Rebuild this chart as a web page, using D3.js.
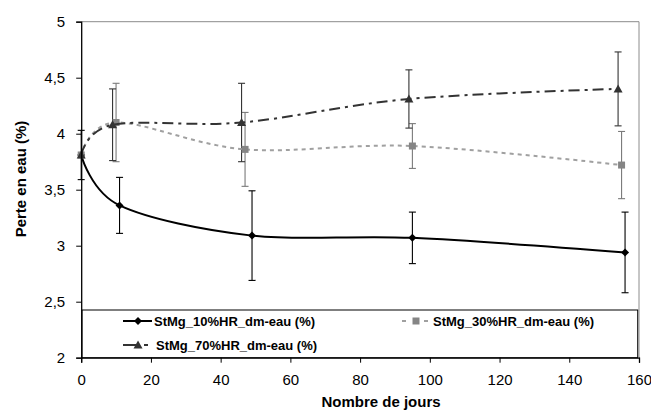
<!DOCTYPE html>
<html><head><meta charset="utf-8">
<script src="https://cdn.jsdelivr.net/npm/d3@7"></script>
<style>body{margin:0;background:#fff} text{font-family:Arial,"Liberation Sans",sans-serif}</style>
</head><body><svg id="c" width="651" height="414"></svg>
<script>
const names=["StMg_10%HR_dm-eau (%)","StMg_30%HR_dm-eau (%)","StMg_70%HR_dm-eau (%)"];
const days10=[0,11,49,95,156];
const val10=[3.81,3.36,3.09,3.07,2.94];
const err10=[0.22,0.25,0.40,0.23,0.36];
const days30=[0,10,47,95,155];
const val30=[3.81,4.10,3.86,3.89,3.72];
const err30=[0,0.35,0.33,0.20,0.30];
const days70=[0,9,46,94,154];
const val70=[3.81,4.08,4.10,4.31,4.40];
const err70=[0,0.32,0.35,0.26,0.33];
const xTicks=[0,20,40,60,80,100,120,140,160];
const yTicks=[2,2.5,3,3.5,4,4.5,5];
const yTickLabels=["2","2,5","3","3,5","4","4,5","5"];
const xTitle="Nombre de jours", yTitle="Perte en eau (%)";

const svg=d3.select("#c");
const x=d3.scaleLinear().domain([0,160]).range([81.2,639]);
const y=d3.scaleLinear().domain([2,5]).range([357.7,21.7]);

// plot frame (top/right gray)
svg.append("path").attr("d",`M${x(0)},${y(5)}H${x(160)}V${y(2)}`).attr("fill","none").attr("stroke","#8c8c8c").attr("stroke-width",1);

const series=[
 {name:names[0],d:days10,v:val10,e:err10,color:"#000",ecolor:"#000",dash:null,marker:"diamond",mcolor:"#000",w:2,leg:[123,321,29,null,15,31]},
 {name:names[1],d:days30,v:val30,e:err30,color:"#a0a0a0",ecolor:"#7a7a7a",dash:"4,4",marker:"square",mcolor:"#858585",w:2,leg:[402,321,26,"4,18,4",14,31]},
 {name:names[2],d:days70,v:val70,e:err70,color:"#333",ecolor:"#333",dash:"11,5,3,5",marker:"triangle",mcolor:"#333",w:2,leg:[123,345,25,"13,8,4",15,33]}
];
const markerPath={
 diamond:"M0,-4L4,0L0,4L-4,0Z",
 square:"M-3.5,-3.5H3.5V3.5H-3.5Z",
 triangle:"M0,-4.5L4.5,3.5L-4.5,3.5Z"
};
const line=d3.line().x(p=>x(p[0])).y(p=>y(p[1])).curve(d3.curveCardinal.tension(0));

// error bars
series.forEach(s=>{
 const g=svg.append("g").attr("stroke",s.ecolor).attr("stroke-width",1.1);
 s.d.forEach((dd,i)=>{
  if(!s.e[i]) return;
  const cx=x(dd), t=y(s.v[i]+s.e[i]), b=y(s.v[i]-s.e[i]);
  g.append("line").attr("x1",cx).attr("x2",cx).attr("y1",t).attr("y2",b);
  g.append("line").attr("x1",cx-3.5).attr("x2",cx+3.5).attr("y1",t).attr("y2",t);
  g.append("line").attr("x1",cx-3.5).attr("x2",cx+3.5).attr("y1",b).attr("y2",b);
 });
});
// lines and markers
series.forEach(s=>{
 const pts=s.d.map((dd,i)=>[dd,s.v[i]]);
 svg.append("path").attr("d",line(pts)).attr("fill","none").attr("stroke",s.color)
  .attr("stroke-width",s.w).attr("stroke-dasharray",s.dash);
 svg.append("g").selectAll("path").data(pts).join("path")
  .attr("transform",p=>`translate(${x(p[0])},${y(p[1])})`)
  .attr("d",markerPath[s.marker]).attr("fill",s.mcolor);
});

// legend
const lg=svg.append("g");
lg.append("rect").attr("x",82).attr("y",310).attr("width",555.7).attr("height",47.7)
 .attr("fill","#fff").attr("stroke","#000").attr("stroke-width",1);
series.forEach(s=>{
 const [lx,ly,len,dash,mOff,tOff]=s.leg;
 lg.append("line").attr("x1",lx).attr("x2",lx+len).attr("y1",ly).attr("y2",ly)
  .attr("stroke",s.color).attr("stroke-width",2).attr("stroke-dasharray",dash);
 lg.append("path").attr("transform",`translate(${lx+mOff},${ly})`).attr("d",markerPath[s.marker]).attr("fill",s.mcolor);
 lg.append("text").attr("x",lx+tOff).attr("y",ly).attr("dy","0.36em")
  .attr("font-size",13).attr("font-weight","bold").attr("fill","#000").text(s.name);
});

// axes
const ax=svg.append("g").attr("transform",`translate(0,${y(2)})`)
 .call(d3.axisBottom(x).tickValues(xTicks).tickSize(5).tickPadding(12).tickFormat(d=>String(d)));
const ay=svg.append("g").attr("transform",`translate(${x(0)},0)`)
 .call(d3.axisLeft(y).tickValues(yTicks).tickSize(5).tickPadding(11).tickFormat((d,i)=>yTickLabels[i]));
[ax,ay].forEach(a=>{
 a.select(".domain").attr("stroke","#000").attr("stroke-width",1.3);
 a.selectAll(".tick line").attr("stroke","#000");
 a.selectAll("text").attr("font-size",15).attr("fill","#000").attr("font-family","Arial,'Liberation Sans',sans-serif");
});

svg.append("text").attr("x",381).attr("y",407).attr("text-anchor","middle")
 .attr("font-size",15).attr("font-weight","bold").text(xTitle);
svg.append("text").attr("transform","translate(26,179) rotate(-90)").attr("text-anchor","middle")
 .attr("font-size",15).attr("font-weight","bold").text(yTitle);
</script></body></html>
